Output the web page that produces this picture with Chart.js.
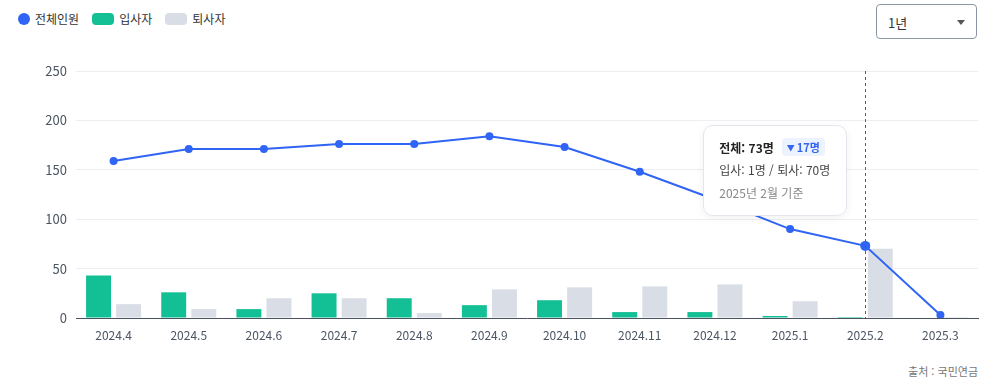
<!DOCTYPE html>
<html lang="ko">
<head>
<meta charset="utf-8">
<script src="https://cdn.jsdelivr.net/npm/chart.js@4"></script>
<style>
  html, body { margin: 0; padding: 0; background: #fff; }
  body { width: 1006px; height: 384px; position: relative; overflow: hidden;
         font-family: "Noto Sans CJK KR", "Noto Sans", sans-serif; }
  #legend { position: absolute; left: 18px; top: 10px; display: flex; align-items: center;
            font-size: 12px; color: #333; }
  #legend .item { display: flex; align-items: center; margin-right: 13px; }
  #legend .sw { display: inline-block; margin-right: 5px; }
  #period { position: absolute; left: 876px; top: 4px; width: 101px; height: 35px; box-sizing: border-box;
            border: 1px solid #8c95a6; border-radius: 4px; font-size: 13px; color: #333; }
  #period span { position: absolute; left: 11px; top: 8px; }
  #period i { position: absolute; left: 80px; top: 15px; width: 0; height: 0;
              border-left: 4px solid transparent; border-right: 4px solid transparent; border-top: 5px solid #555; }
  #wrap { position: absolute; left: 0; top: 54px; width: 1006px; height: 296px; }
  #tip { position: absolute; width: 144px; height: 91px; box-sizing: border-box; background: #fff;
         border: 1px solid #e3e6ec; border-radius: 10px; box-shadow: 0 2px 8px rgba(0,0,0,0.06);
         padding: 10px 0 0 15px; font-size: 12px; color: #444; }
  #tip .l1 { font-weight: bold; color: #222; height: 22px; display: flex; align-items: center; }
  #tip .badge { margin-left: 8px; background: #edf2ff; color: #3566f0; font-size: 11px; font-weight: bold;
                border-radius: 4px; padding: 1px 5px; }
  #tip .badge small { font-size: 8px; vertical-align: 1px; margin-right: 2px; }
  #tip .l2 { margin-top: 3px; }
  #tip .l3 { margin-top: 6px; color: #888; }
  #src { position: absolute; right: 28px; top: 363px; font-size: 11px; color: #777; }
</style>
</head>
<body>
<div id="legend"></div>
<div id="period"><span>1년</span><i></i></div>
<div id="wrap"><canvas id="c"></canvas></div>
<div id="tip"></div>
<div id="src">출처 : 국민연금</div>
<script>
const months = ["2024.4", "2024.5", "2024.6", "2024.7", "2024.8", "2024.9", "2024.10", "2024.11", "2024.12", "2025.1", "2025.2", "2025.3"];
const totals = [159, 171, 171, 176, 176, 184, 173, 148, 120, 90, 73, 3];
const joins = [43, 26, 9, 25, 20, 13, 18, 6, 6, 2, 1, 0];
const leaves = [14, 9, 20, 20, 5, 29, 31, 32, 34, 17, 70, 1];
const yTicks = [0, 50, 100, 150, 200, 250];
const activeIndex = 10;

const blue = "#2f64f5";
const green = "#13bf95";
const gray = "#d9dde5";

// legend
const legendItems = [
  { label: "전체인원", color: blue, round: true },
  { label: "입사자", color: green },
  { label: "퇴사자", color: gray }
];
document.getElementById("legend").innerHTML = legendItems.map(it =>
  it.round
    ? `<span class="item"><span class="sw" style="width:12px;height:12px;border-radius:50%;background:${it.color}"></span>${it.label}</span>`
    : `<span class="item"><span class="sw" style="width:22px;height:12px;border-radius:4px;background:${it.color}"></span>${it.label}</span>`
).join("");

// hover guide + tooltip placement
const hoverPlugin = {
  id: "hover",
  afterDatasetsDraw(chart) {
    const pt = chart.getDatasetMeta(0).data[activeIndex];
    const { ctx, chartArea } = chart;
    ctx.save();
    ctx.strokeStyle = "#3159e8";
    ctx.lineWidth = 1;
    ctx.setLineDash([3, 3]);
    ctx.beginPath();
    ctx.moveTo(Math.round(pt.x) + 0.5, chartArea.top);
    ctx.lineTo(Math.round(pt.x) + 0.5, chartArea.bottom);
    ctx.stroke();
    ctx.restore();
  },
  afterDraw(chart) {
    const pt = chart.getDatasetMeta(0).data[activeIndex];
    const tip = document.getElementById("tip");
    const diff = totals[activeIndex - 1] - totals[activeIndex];
    const [y, m] = months[activeIndex].split(".");
    tip.innerHTML =
      `<div class="l1">전체: ${totals[activeIndex]}명<span class="badge"><small>▼</small>${diff}명</span></div>` +
      `<div class="l2">입사: ${joins[activeIndex]}명 / 퇴사: ${leaves[activeIndex]}명</div>` +
      `<div class="l3">${y}년 ${m}월 기준</div>`;
    tip.style.left = (pt.x - 18 - 144) + "px";
    tip.style.top = (54 + chart.chartArea.top + 54) + "px";
  }
};

new Chart(document.getElementById("c"), {
  type: "bar",
  data: {
    labels: months,
    datasets: [
      {
        type: "line",
        label: "전체인원",
        data: totals,
        borderColor: blue,
        backgroundColor: blue,
        borderWidth: 2,
        pointRadius: totals.map((_, i) => i === activeIndex ? 5 : 4),
        pointBackgroundColor: blue,
        pointBorderWidth: 0,
        tension: 0,
        order: 0
      },
      {
        label: "입사자",
        data: joins,
        backgroundColor: green,
        barPercentage: 0.83,
        categoryPercentage: 0.8,
        order: 1
      },
      {
        label: "퇴사자",
        data: leaves,
        backgroundColor: gray,
        barPercentage: 0.83,
        categoryPercentage: 0.8,
        order: 1
      }
    ]
  },
  options: {
    responsive: true,
    maintainAspectRatio: false,
    animation: false,
    layout: { padding: { top: 17, right: 28, bottom: 0, left: 0 } },
    plugins: {
      legend: { display: false },
      tooltip: { enabled: false }
    },
    scales: {
      x: {
        grid: { display: false, drawTicks: false },
        border: { display: true, color: "#4b5262", width: 1 },
        ticks: { color: "#4b5563", font: { family: "Noto Sans CJK KR", size: 12 }, padding: 10 },
        afterFit(s) { s.height = 32; }
      },
      y: {
        min: 0,
        max: 250,
        afterBuildTicks(s) { s.ticks = yTicks.map(v => ({ value: v })); },
        grid: { color: "#eceef2", drawTicks: false },
        border: { display: false },
        ticks: { color: "#4b5563", font: { family: "Noto Sans CJK KR", size: 13 }, padding: 9 },
        afterFit(s) { s.width = 76; }
      }
    }
  },
  plugins: [hoverPlugin]
});
</script>
</body>
</html>
